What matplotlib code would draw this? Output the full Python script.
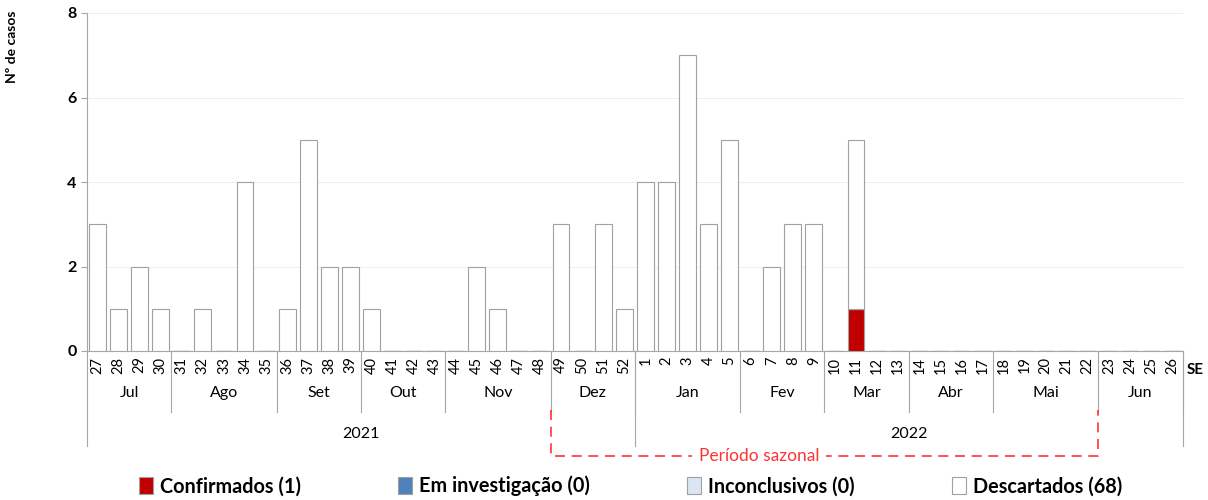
import matplotlib.pyplot as plt
import numpy as np

plt.rcParams['font.family'] = ['Lato', 'DejaVu Sans']

# Semanas epidemiológicas (SE 27/2021 a SE 26/2022)
semanas = [str(s) for s in range(27, 53)] + [str(s) for s in range(1, 27)]

confirmados = [0] * 52
confirmados[semanas.index('11', 26)] = 1
em_investigacao = [0] * 52
inconclusivos = [0] * 52
descartados = [3, 1, 2, 1, 0, 1, 0, 4, 0, 1, 5, 2, 2, 1, 0, 0, 0, 0, 2, 1, 0, 0, 3, 0, 3, 1,
               4, 4, 7, 3, 5, 0, 2, 3, 3, 0, 4, 0, 0, 0, 0, 0, 0, 0, 0, 0, 0, 0, 0, 0, 0, 0]

meses = ['Jul', 'Ago', 'Set', 'Out', 'Nov', 'Dez', 'Jan', 'Fev', 'Mar', 'Abr', 'Mai', 'Jun']
semanas_por_mes = [4, 5, 4, 4, 5, 4, 5, 4, 4, 4, 5, 4]
anos = ['2021', '2022']
semanas_por_ano = [26, 26]

legenda = ['Confirmados (1)', 'Em investigação (0)', 'Inconclusivos (0)', 'Descartados (68)']
cores = ['#C00000', '#4F81BD', '#DCE6F2', 'white']

fig = plt.figure(figsize=(12.08, 5), dpi=100)
ax = fig.add_axes([0.072, 0.298, 0.907, 0.676])

x = np.arange(len(semanas))
series = [confirmados, em_investigacao, inconclusivos, descartados]
bottom = np.zeros(len(semanas))
handles = []
for vals, cor, nome in zip(series, cores, legenda):
    vals = np.array(vals)
    b = ax.bar(x, vals, width=0.8, bottom=bottom, color=cor, edgecolor='#A0A0A0',
               linewidth=0.8, label=nome, zorder=3)
    handles.append(b)
    bottom += vals

ax.set_xlim(-0.5, len(semanas) - 0.5)
ax.set_ylim(0, 8)
ax.set_yticks([0, 2, 4, 6, 8])
ax.grid(axis='y', color='#EEEEEE', linewidth=0.8, zorder=0)

for s in ['top', 'right']:
    ax.spines[s].set_visible(False)
for s in ['left', 'bottom']:
    ax.spines[s].set_color('#A6A6A6')

ax.tick_params(axis='y', colors='#A6A6A6', length=4, labelcolor='black', labelsize=11.5)
for lbl in ax.get_yticklabels():
    lbl.set_fontweight('bold')

ax.set_xticks(x)
ax.set_xticklabels(semanas, rotation=90, fontsize=10.5)
ax.tick_params(axis='x', length=0, pad=4)

ax.set_ylabel('Nº de casos', fontsize=10, fontweight='bold', labelpad=0)
ax.yaxis.set_label_coords(-0.063, 0.9)

ax.text(1.004, -0.055, 'SE', transform=ax.transAxes, fontsize=11, fontweight='bold',
        ha='left', va='center')

trans = ax.get_xaxis_transform()

# Meses
inicio = 0
for mes, n in zip(meses, semanas_por_mes):
    ax.text(inicio + n / 2 - 0.5, -0.125, mes, transform=trans, ha='center', va='center',
            fontsize=11.5)
    ax.plot([inicio + n - 0.5] * 2, [0, -0.18], transform=trans, color='#A6A6A6',
            linewidth=0.8, clip_on=False)
    inicio += n

# Anos
ax.plot([-0.5, -0.5], [0, -0.28], transform=trans, color='#A6A6A6', linewidth=0.8, clip_on=False)
inicio = 0
for ano, n in zip(anos, semanas_por_ano):
    ax.text(inicio + n / 2 - 0.5, -0.245, ano, transform=trans, ha='center', va='center',
            fontsize=11.5)
    ax.plot([inicio + n - 0.5] * 2, [0, -0.28], transform=trans, color='#A6A6A6',
            linewidth=0.8, clip_on=False)
    inicio += n

# Período sazonal: SE 49 a SE 22
x0 = semanas.index('49') - 0.5
x1 = semanas.index('22', 26) + 0.5
ax.plot([x0, x0, x1, x1], [-0.175, -0.31, -0.31, -0.175], transform=trans, color='#FF3333',
        linewidth=1.2, linestyle=(0, (6, 4)), clip_on=False)
ax.text(31.4, -0.31, 'Período sazonal', transform=trans, ha='center', va='center',
        color='#FF3333', fontsize=12.5, bbox=dict(facecolor='white', edgecolor='none', pad=5))

leg = fig.legend(handles=handles, loc='center', bbox_to_anchor=(0.522, 0.028), ncol=4,
                 frameon=False, handlelength=0.7, handleheight=0.9,
                 handletextpad=0.35, columnspacing=4.9, prop={'weight': 'bold', 'size': 14.3})

fig.savefig('out.png', dpi=100)
